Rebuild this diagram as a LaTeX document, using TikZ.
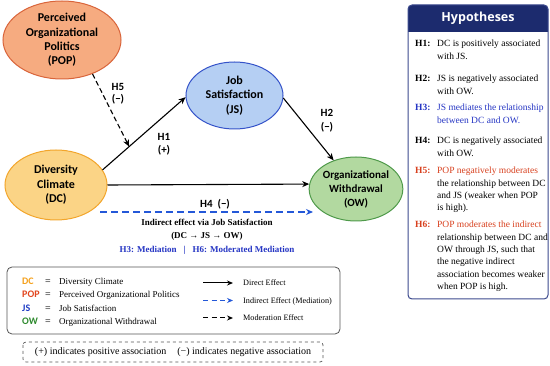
\documentclass[tikz,border=0pt]{standalone}
\usepackage{fontspec}
\setmainfont{Liberation Serif}
\newfontfamily\carl{Carlito}
\newfontfamily\osans{Open Sans}
\usetikzlibrary{shapes.geometric,arrows.meta}
\definecolor{popfill}{HTML}{F6AB80}
\definecolor{popdraw}{HTML}{D9643A}
\definecolor{jsfill}{HTML}{B5CFF3}
\definecolor{jsdraw}{HTML}{3553C9}
\definecolor{dcfill}{HTML}{FBD486}
\definecolor{dcdraw}{HTML}{F2A52B}
\definecolor{owfill}{HTML}{B2D9A0}
\definecolor{owdraw}{HTML}{4F9A4A}
\definecolor{hypnavy}{HTML}{1C2B6E}
\definecolor{hypborder}{HTML}{3C4A8E}
\definecolor{medblue}{HTML}{2458D8}
\definecolor{hblue}{HTML}{2636C4}
\definecolor{hred}{HTML}{D8401E}
\definecolor{dcorange}{HTML}{F5A11C}
\definecolor{popred}{HTML}{E2461E}
\definecolor{jsblue}{HTML}{1E3CC4}
\definecolor{owgreen}{HTML}{2E8A2E}
\definecolor{legborder}{HTML}{555555}
\newcommand{\hypl}[1]{\begin{tabular}[t]{@{}l@{}}#1\end{tabular}}
\begin{document}
\begin{tikzpicture}[x=1pt,y=-1pt,
  construct/.style={ellipse, draw, line width=1pt, inner sep=0pt, align=center,
    font=\carl\bfseries\fontsize{12}{14.3}\selectfont},
  arr/.style={-{Stealth[length=7pt,width=6pt]}, line width=1.1pt},
  modarr/.style={arr, dash pattern=on 5pt off 3pt},
  medarr/.style={-{Stealth[length=7pt,width=6pt]}, line width=1.4pt, draw=medblue, dash pattern=on 7pt off 4pt},
  elabel/.style={font=\carl\bfseries\fontsize{11}{13}\selectfont, inner sep=0pt},
  ilabel/.style={font=\bfseries\fontsize{9}{11}\selectfont, inner sep=0pt, anchor=base},
  hlab/.style={anchor=base west, inner sep=0pt, font=\bfseries\fontsize{9.5}{12.3}\selectfont},
  hbody/.style={anchor=base west, inner sep=0pt, font=\fontsize{9.5}{12.3}\selectfont},
  labbr/.style={anchor=base west, inner sep=0pt, font=\carl\bfseries\fontsize{10}{12}\selectfont},
  leq/.style={anchor=base, inner sep=0pt, font=\bfseries\fontsize{10}{12}\selectfont, text=black!75},
  ltext/.style={anchor=base west, inner sep=0pt, font=\fontsize{9}{11}\selectfont},
  rtext/.style={anchor=base west, inner sep=0pt, font=\fontsize{8.2}{10}\selectfont},
  legarr/.style={-{Stealth[length=6pt,width=5pt]}, line width=1pt}
]
\useasboundingbox (0,0) rectangle (550,366);
\fill[white] (0,0) rectangle (550,366);

% constructs
\node[construct, fill=popfill, draw=popdraw, minimum width=118pt, minimum height=78pt] (POP) at (62,40) {Perceived\\Organizational\\Politics\\(POP)};
\node[construct, fill=jsfill, draw=jsdraw, minimum width=97pt, minimum height=67pt] (JS) at (234.5,95.5) {Job\\Satisfaction\\(JS)};
\node[construct, fill=dcfill, draw=dcdraw, minimum width=102pt, minimum height=70pt] (DC) at (56,185) {Diversity\\Climate\\(DC)};
\node[construct, fill=owfill, draw=owdraw, minimum width=92pt, minimum height=64pt, font=\carl\bfseries\fontsize{11}{14}\selectfont] (OW) at (356,189) {Organizational\\Withdrawal\\(OW)};

% paths
\draw[arr] (DC.18) -- (JS.182) coordinate[pos=0.32] (h5end);
\draw[arr] (JS.-3) -- (OW.128);
\draw[arr] (DC.east) -- (OW.174);
\draw[modarr] (POP.-48) -- (h5end);
\coordinate (ie1) at (100,212);
\coordinate (ie2) at (313,212);
\draw[medarr] (ie1) -- (ie2);

% path labels
\node[elabel] (H5a) at (118,87) {H5};
\node[elabel] (H5b) at (118,99.5) {(−)};
\node[elabel] (H1a) at (164,137) {H1};
\node[elabel] (H1b) at (164,150) {(+)};
\node[elabel] (H2a) at (327,113) {H2};
\node[elabel] (H2b) at (327,127) {(−)};
\node[elabel] (H4a) at (215,204) {H4~~(−)};
\node[ilabel] (ind1) at (207,226) {Indirect effect via Job Satisfaction};
\node[ilabel] (ind2) at (207,239) {(DC → JS → OW)};
\node[ilabel, text=hblue] (ind3) at (207,252.5) {H3: Mediation\hspace{7pt}|\hspace{7pt}H6: Moderated Mediation};

% hypotheses box
\fill[hypnavy] (408,32) {[rounded corners=4pt] -- (408,5) -- (548,5)} -- (548,32) -- cycle;
\draw[hypborder, line width=1pt, rounded corners=4pt] (408,5) rectangle (548,299);
\node[font=\osans\bfseries\fontsize{12.5}{14}\selectfont, text=white, inner sep=0pt] (hyptitle) at (478,18.5) {Hypotheses};

\node[hlab] (h1l) at (415,47) {H1:};
\node[hbody] (h1b) at (437,47) {\hypl{DC is positively associated\\with JS.}};
\node[hlab] (h2l) at (415,82) {H2:};
\node[hbody] (h2b) at (437,82) {\hypl{JS is negatively associated\\with OW.}};
\node[hlab, text=hblue] (h3l) at (415,111) {H3:};
\node[hbody, text=hblue] (h3b) at (437,111) {\hypl{JS mediates the relationship\\between DC and OW.}};
\node[hlab] (h4l) at (415,144) {H4:};
\node[hbody] (h4b) at (437,144) {\hypl{DC is negatively associated\\with OW.}};
\node[hlab, text=hred] (h5l) at (415,174) {H5:};
\node[hbody] (h5b) at (437,174) {\hypl{\textcolor{hred}{POP negatively moderates}\\the relationship between DC\\and JS (weaker when POP\\is high).}};
\node[hlab, text=hred] (h6l) at (415,228) {H6:};
\node[hbody] (h6b) at (437,228) {\hypl{\textcolor{hred}{POP moderates the indirect}\\relationship between DC and\\OW through JS, such that\\the negative indirect\\association becomes weaker\\when POP is high.}};

% legend
\draw[legborder, line width=0.8pt, rounded corners=5pt] (7,267) rectangle (340,334);
\node[labbr, text=dcorange] (lDC) at (22,285) {DC};
\node[labbr, text=popred] (lPOP) at (22,297.6) {POP};
\node[labbr, text=jsblue] (lJS) at (22,311.5) {JS};
\node[labbr, text=owgreen] (lOW) at (22,325) {OW};
\node[leq] (e1) at (48,285) {=};
\node[leq] (e2) at (48,297.6) {=};
\node[leq] (e3) at (48,311.5) {=};
\node[leq] (e4) at (48,325) {=};
\node[ltext] (t1) at (59,285) {Diversity Climate};
\node[ltext] (t2) at (59,297.6) {Perceived Organizational Politics};
\node[ltext] (t3) at (59,311.5) {Job Satisfaction};
\node[ltext] (t4) at (59,325) {Organizational Withdrawal};

\coordinate (la1) at (203,283);
\coordinate (la2) at (233,283);
\coordinate (lb1) at (203,300.5);
\coordinate (lb2) at (233,300.5);
\coordinate (lc1) at (203,318);
\coordinate (lc2) at (233,318);
\draw[legarr] (la1) -- (la2);
\draw[legarr, draw=medblue, line width=1.3pt, dash pattern=on 5pt off 3.5pt] (lb1) -- (lb2);
\draw[legarr, dash pattern=on 5pt off 3.5pt] (lc1) -- (lc2);
\node[rtext] (r1) at (243,286) {Direct Effect};
\node[rtext] (r2) at (243,303.5) {Indirect Effect (Mediation)};
\node[rtext] (r3) at (243,321) {Moderation Effect};

\draw[legborder, line width=0.7pt, dashed, rounded corners=3pt] (23,342) rectangle (323,362);
\node[font=\fontsize{10}{12}\selectfont, inner sep=0pt] (note) at (173,352) {(+) indicates positive association\hspace{11pt}(−) indicates negative association};
\end{tikzpicture}
\end{document}
